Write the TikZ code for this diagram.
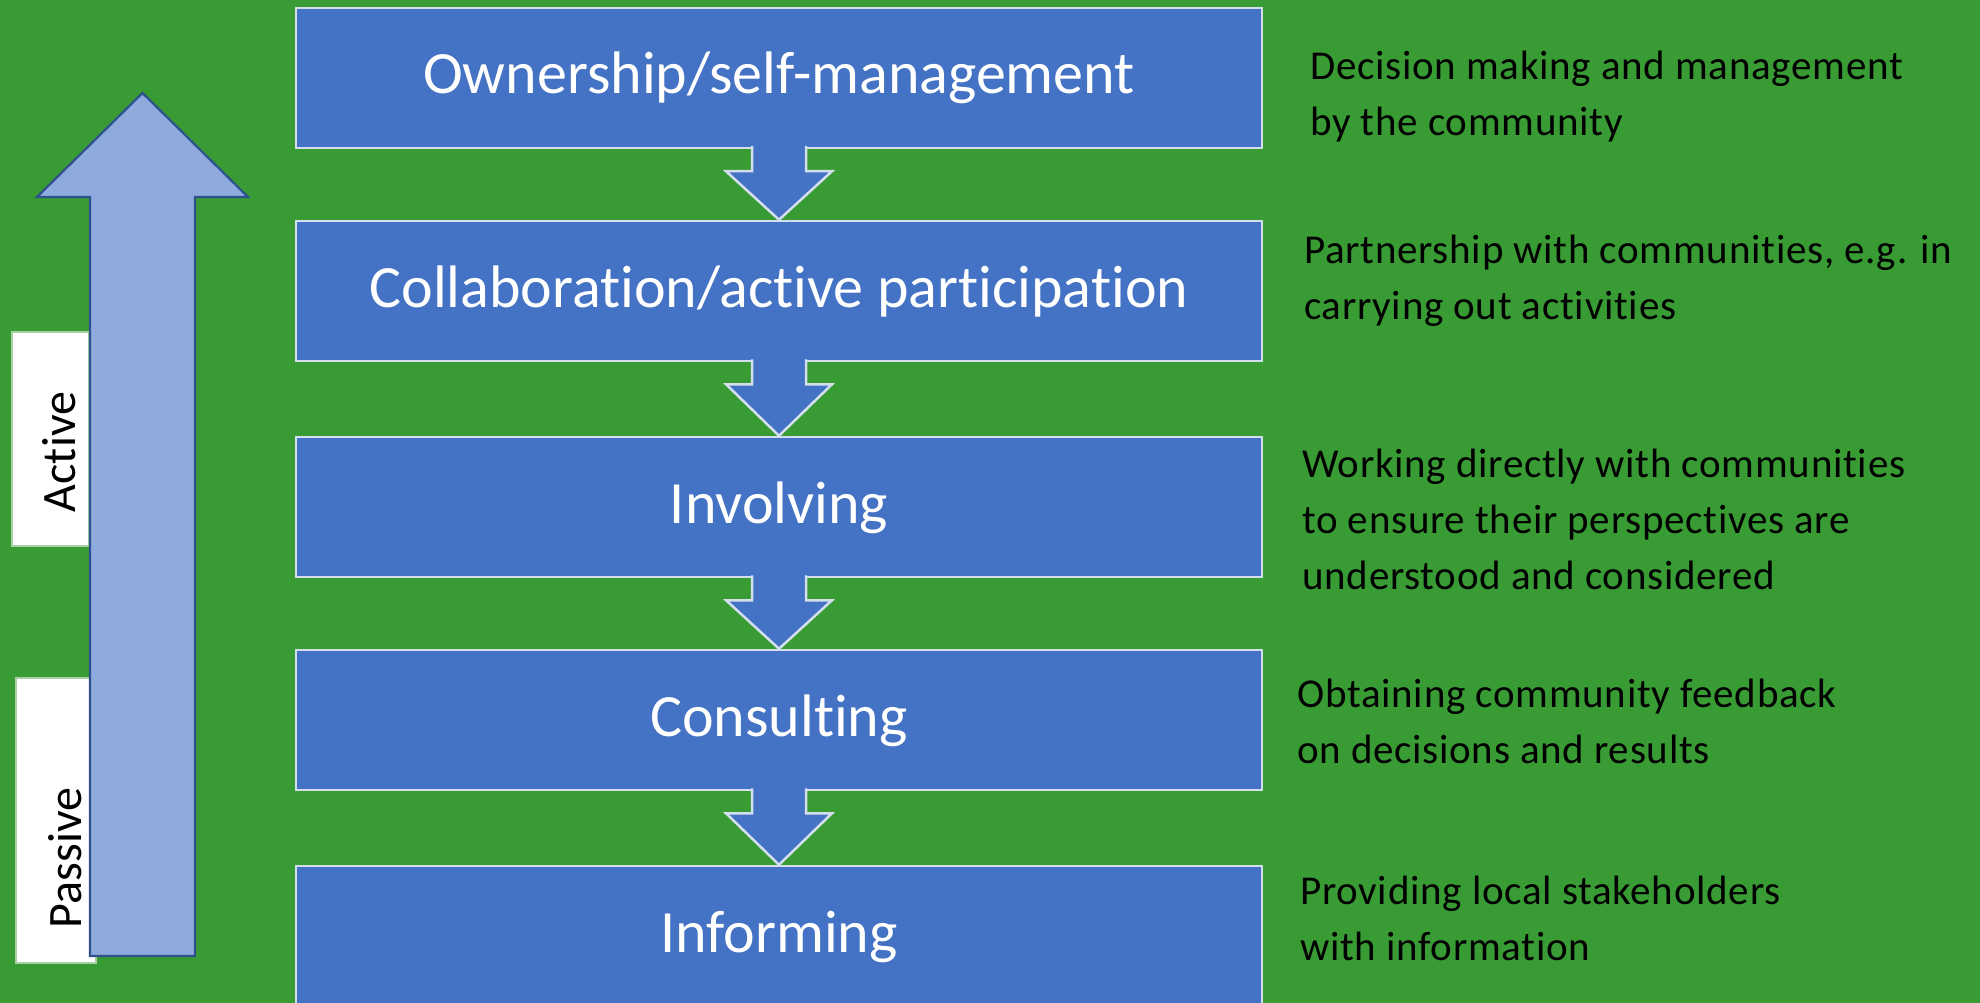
\documentclass[tikz,border=0pt]{standalone}
\usepackage{fontspec}
\setmainfont{Carlito}[Ligatures=NoCommon]
\newfontfamily\descfont{Carlito}[Ligatures=NoCommon, LetterSpace=1.8]
\usetikzlibrary{calc}
\definecolor{bggreen}{HTML}{389B33}
\definecolor{stepblue}{HTML}{4472C4}
\definecolor{rimwhite}{HTML}{D3DEEF}
\definecolor{scalefill}{HTML}{8FAADC}
\definecolor{scaleline}{HTML}{2F528F}
\definecolor{tagrim}{HTML}{A6D3A1}
\begin{document}
\begin{tikzpicture}[x=1pt,y=-1pt,
  level/.style={fill=stepblue, draw=rimwhite, line width=2.5pt,
    minimum width=966pt, minimum height=140pt, inner sep=0pt,
    text=white, font=\fontsize{60}{72}\selectfont,
    text height=32pt, text depth=0pt},
  flowarrow/.style={fill=stepblue, draw=rimwhite, line width=2.5pt, line join=miter},
  tagbox/.style={fill=white, draw=tagrim, line width=2pt, inner sep=0pt},
  tagtext/.style={rotate=90, font=\fontsize{48}{56}\selectfont, inner sep=0pt},
  desc/.style={anchor=base west, inner sep=0pt, text=black,
    font=\descfont\fontsize{41}{56}\selectfont},
]
\useasboundingbox (0,0) rectangle (1980,1003);
\fill[bggreen] (0,0) rectangle (1980,1003);

% passive / active tags behind the scale arrow
\node[tagbox, minimum width=77pt, minimum height=214pt] (activebox) at (50.5,439) {};
\node[tagbox, minimum width=80pt, minimum height=285pt] (passivebox) at (56,820.5) {};
\node[tagtext] (activetxt) at (59,452) {Active};
\node[tagtext] (passivetxt) at (65,858) {Passive};

% upward scale arrow
\draw[fill=scalefill, draw=scaleline, line width=2.2pt, line join=miter]
  (90,956) -- (90,197) -- (37,197) -- (142.5,93) -- (248,197)
  -- (195,197) -- (195,956) -- cycle;

% ladder of participation levels
\node[level] (own)     at (779,78)  {Ownership/self-management};
\node[level] (collab)  at (779,291) {Collaboration/active participation};
\node[level] (involve) at (779,507) {Involving};
\node[level] (consult) at (779,720) {Consulting};
\node[level] (inform)  at (779,936) {Informing};

% block arrows between consecutive levels (open stroke, implicitly closed fill)
\foreach \a/\b in {own/collab, collab/involve, involve/consult, consult/inform}{
  \draw[flowarrow]
    ($(\a.south)+(-27,-3)$) -- ($(\a.south)+(-27,22)$) -- ($(\a.south)+(-53,22)$)
    -- (\b.north)
    -- ($(\a.south)+(53,22)$) -- ($(\a.south)+(27,22)$) -- ($(\a.south)+(27,-3)$);
}

% descriptions
\node[desc] (downn) at (1310,80) {\begin{tabular}[t]{@{}l@{}}Decision making and management\\ by the community\end{tabular}};
\node[desc] (dcollab) at (1304,263) {\begin{tabular}[t]{@{}l@{}}Partnership with communities, e.g. in\\ carrying out activities\end{tabular}};
\node[desc] (dinvolve) at (1302,477) {\begin{tabular}[t]{@{}l@{}}Working directly with communities\\ to ensure their perspectives are\\ understood and considered\end{tabular}};
\node[desc] (dconsult) at (1297,707) {\begin{tabular}[t]{@{}l@{}}Obtaining community feedback\\ on decisions and results\end{tabular}};
\node[desc] (dinform) at (1300,904) {\begin{tabular}[t]{@{}l@{}}Providing local stakeholders\\ with information\end{tabular}};
\end{tikzpicture}
\end{document}
